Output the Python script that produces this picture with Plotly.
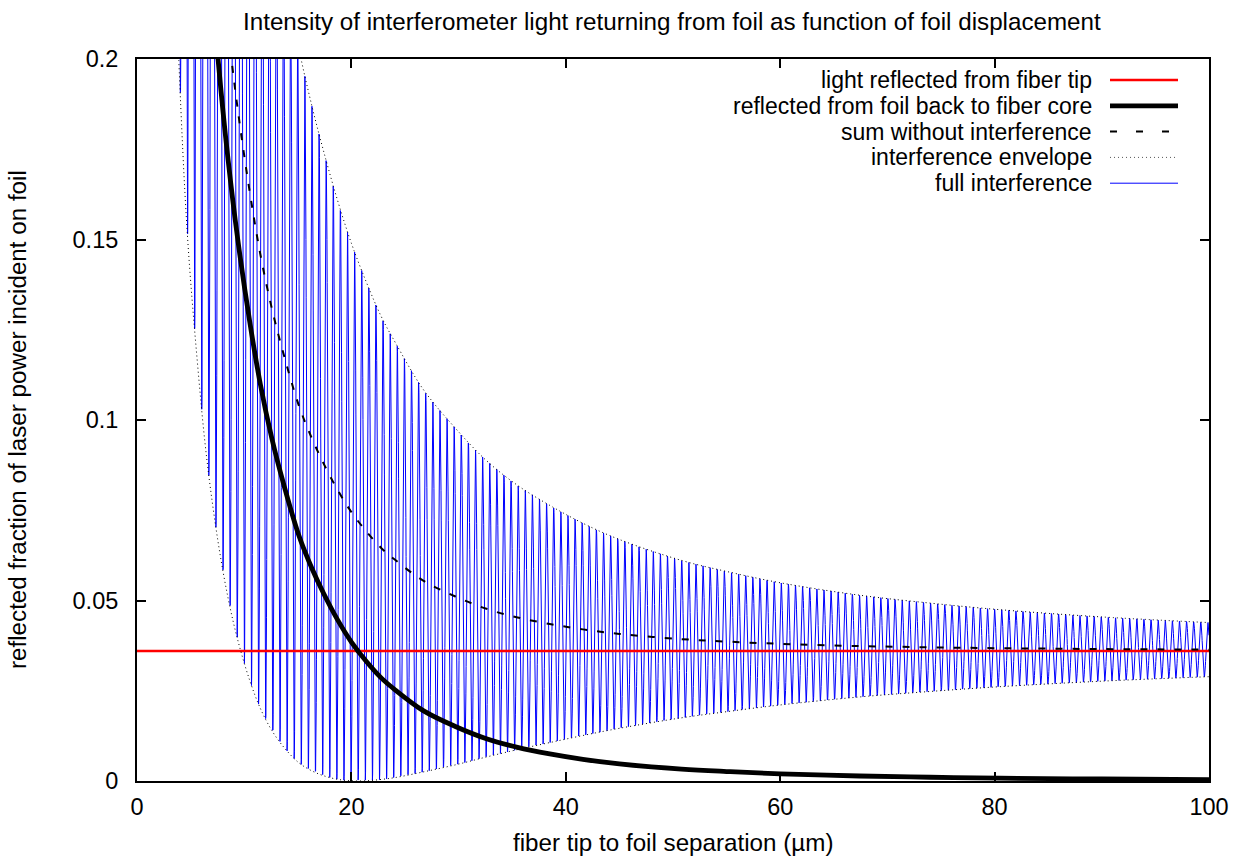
import numpy as np
import plotly.graph_objects as go

# Reflectance of the bare fiber end face (fraction of launched power)
TIP_REFLECTANCE = 0.036

# Fraction of light reflected by the foil that couples back into the fiber core
SEPARATION_UM = [3.0, 3.9, 4.7, 5.6, 6.5, 7.56, 8.5, 9.4, 10.5, 11.5, 12.57, 13.7,
                 15.1, 16.3, 17.4, 18.7, 20.0, 21.4, 22.8, 24.1, 26.7, 29.7, 32.6,
                 35.5, 38.5, 41.6, 45.0, 50.8, 55.0, 60.0, 67.4, 74.0, 80.5, 90.0, 100.0]
FOIL_RETURN = [0.51, 0.405, 0.335, 0.283, 0.239, 0.200, 0.172, 0.150, 0.1275, 0.110,
               0.0950, 0.082, 0.068, 0.059, 0.052, 0.0447, 0.0385, 0.0331, 0.0285,
               0.0252, 0.0195, 0.0151, 0.0117, 0.0093, 0.0075, 0.0060, 0.00475, 0.0033,
               0.00262, 0.00199, 0.00138, 0.00104, 0.00079, 0.00055, 0.00039]

# Fringe spacing (half the wavelength) and the position of one bright fringe
FRINGE_PERIOD_UM = 0.6633
FRINGE_PEAK_UM = 30.91

X_TICKS = [0, 20, 40, 60, 80, 100]
Y_TICKS = [0, 0.05, 0.1, 0.15, 0.2]
Y_TICK_TEXT = ["0", "0.05", "0.1", "0.15", "0.2"]

SERIES_NAMES = [
    "light reflected from fiber tip",
    "reflected from foil back to fiber core",
    "sum without interference",
    "interference envelope",
    "full interference",
]

TITLE = "Intensity of interferometer light returning from foil as function of foil displacement"
X_TITLE = "fiber tip to foil separation (\u00b5m)"
Y_TITLE = "reflected fraction of laser power incident on foil"

FONT = "Liberation Sans, Arial, Helvetica, sans-serif"
FS_TICK = 23.5
FS_TEXT = 24.2
FS_KEY = 23

sep = np.array(SEPARATION_UM)
foil = np.array(FOIL_RETURN)
tip = np.full_like(sep, TIP_REFLECTANCE)
total = tip + foil
env_hi = (np.sqrt(tip) + np.sqrt(foil)) ** 2
env_lo = (np.sqrt(tip) - np.sqrt(foil)) ** 2

# two-beam interference between the tip and foil reflections
x_fine = np.arange(sep[0], sep[-1] + 1e-9, 0.02)
foil_fine = np.exp(np.interp(x_fine, sep, np.log(foil)))
phase = 2 * np.pi * (x_fine - FRINGE_PEAK_UM) / FRINGE_PERIOD_UM
full = TIP_REFLECTANCE + foil_fine + 2 * np.sqrt(TIP_REFLECTANCE * foil_fine) * np.cos(phase)

fig = go.Figure()
fig.add_trace(go.Scatter(x=x_fine, y=full, mode="lines", name=SERIES_NAMES[4],
                         line=dict(color="#0000ff", width=1)))
fig.add_trace(go.Scatter(x=[0, 100], y=[TIP_REFLECTANCE, TIP_REFLECTANCE], mode="lines",
                         name=SERIES_NAMES[0], line=dict(color="#ff0000", width=2.5)))
fig.add_trace(go.Scatter(x=sep, y=foil, mode="lines", name=SERIES_NAMES[1],
                         line=dict(color="black", width=4.8, shape="spline")))
fig.add_trace(go.Scatter(x=sep, y=total, mode="lines", name=SERIES_NAMES[2],
                         line=dict(color="black", width=2, dash="7px,10px", shape="spline")))
for env in (env_hi, env_lo):
    fig.add_trace(go.Scatter(x=sep, y=env, mode="lines", name=SERIES_NAMES[3],
                             line=dict(color="black", width=1, dash="1px,3px", shape="spline")))

# plot-area geometry in pixels
W, H = 1241, 860
L, R, T, B = 137, 1209, 59, 781
PW, PH = R - L, B - T


def px(xp):
    return (xp - L) / PW


def py(yp):
    return (B - yp) / PH


annotations = [
    dict(text=TITLE, x=px(672), y=py(22), xref="paper", yref="paper",
         showarrow=False, xanchor="center", yanchor="middle",
         font=dict(family=FONT, size=FS_TEXT, color="black")),
    dict(text=X_TITLE, x=px(673), y=py(842), xref="paper", yref="paper",
         showarrow=False, xanchor="center", yanchor="middle",
         font=dict(family=FONT, size=FS_TEXT, color="black")),
    dict(text=Y_TITLE, x=px(17), y=py(420), xref="paper", yref="paper",
         showarrow=False, xanchor="center", yanchor="middle", textangle=-90,
         font=dict(family=FONT, size=FS_TEXT, color="black")),
]

# key: text on the left, line sample on the right
key_rows = [80, 105.8, 131.6, 157.4, 183.2]
key_styles = [
    dict(color="#ff0000", width=2.5),
    dict(color="black", width=4.8),
    dict(color="black", width=2, dash="7px,19px"),
    dict(color="#555555", width=1, dash="1px,3px"),
    dict(color="#0000ff", width=1),
]
shapes = []
for name, row, style in zip(SERIES_NAMES, key_rows, key_styles):
    annotations.append(dict(text=name, x=px(1094), y=py(row), xref="paper", yref="paper",
                            showarrow=False, xanchor="right", yanchor="middle",
                            font=dict(family=FONT, size=FS_KEY, color="black")))
    shapes.append(dict(type="line", xref="paper", yref="paper",
                       x0=px(1110), x1=px(1178), y0=py(row), y1=py(row), line=style))

axis_common = dict(showgrid=False, zeroline=False, showline=True, linecolor="black",
                   linewidth=2, mirror="ticks", ticks="inside", ticklen=9, tickwidth=1.5,
                   tickcolor="black", tickfont=dict(family=FONT, size=FS_TICK, color="black"))

fig.update_layout(
    width=W, height=H,
    margin=dict(l=L, r=W - R, t=T, b=H - B, pad=0),
    paper_bgcolor="white", plot_bgcolor="white",
    showlegend=False,
    xaxis=dict(range=[0, 100], tickvals=X_TICKS, ticklabelstandoff=4, **axis_common),
    yaxis=dict(range=[0, 0.2], tickvals=Y_TICKS, ticktext=Y_TICK_TEXT,
               ticklabelstandoff=12, **axis_common),
    annotations=annotations,
    shapes=shapes,
)

fig.write_html("out.html")
